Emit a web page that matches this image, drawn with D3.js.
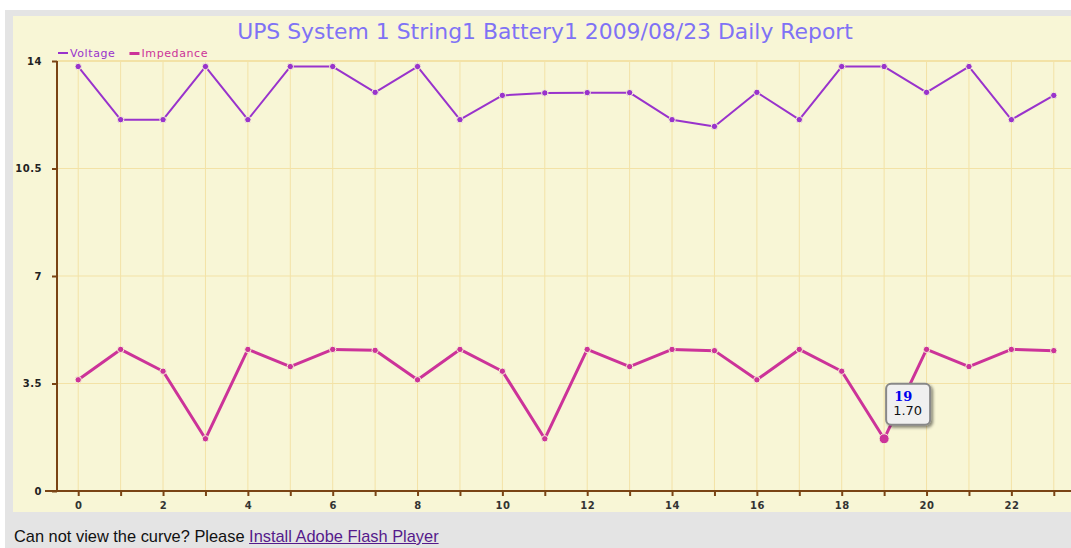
<!DOCTYPE html>
<html>
<head>
<meta charset="utf-8">
<script src="https://cdn.jsdelivr.net/npm/d3@7/dist/d3.min.js"></script>
<style>
  html, body { margin: 0; padding: 0; background: #ffffff; overflow: hidden; }
  #wrap { position: absolute; left: 5px; top: 10px; width: 1066px; height: 538px; background: #e4e4e4; }
  #foot { position: absolute; left: 14px; top: 527px; font-family: "Liberation Sans", Arial, sans-serif; font-size: 16.4px; color: #111; }
  #foot a { color: #551a8b; text-decoration: underline; }
  svg { position: absolute; left: 0; top: 0; }
</style>
</head>
<body>
<div id="wrap"></div>
<svg id="chart" width="1071" height="548"></svg>
<div id="foot">Can not view the curve? Please <a href="#">Install Adobe Flash Player</a></div>
<script>
// Hourly readings for the day
const hours = d3.range(0, 24);
const voltage = [13.82, 12.09, 12.09, 13.82, 12.09, 13.82, 13.82, 12.98, 13.82, 12.09, 12.88, 12.96,
                 12.97, 12.97, 12.09, 11.87, 12.98, 12.09, 13.82, 13.82, 12.98, 13.82, 12.09, 12.88];
const impedance = [3.62, 4.61, 3.90, 1.70, 4.61, 4.05, 4.61, 4.58, 3.62, 4.61, 3.90, 1.70,
                   4.61, 4.05, 4.61, 4.57, 3.62, 4.61, 3.90, 1.70, 4.61, 4.05, 4.61, 4.57];
const yTicks = [0, 3.5, 7, 10.5, 14];
const title = "UPS System 1 String1 Battery1 2009/08/23 Daily Report";
const series = [
  { name: "Voltage", values: voltage, color: "#9933cc", width: 2 },
  { name: "Impedance", values: impedance, color: "#cc3399", width: 3 }
];
const highlight = { series: 1, index: 19 };

const svg = d3.select("#chart");
const font = "DejaVu Sans, Verdana, sans-serif";

// chart panel
svg.append("rect").attr("x", 13).attr("y", 16).attr("width", 1070).attr("height", 496)
  .attr("fill", "#f8f6d6");

const x = d3.scaleLinear().domain([-0.5, 23.5]).range([57, 1075]);
const y = d3.scaleLinear().domain([0, 14]).range([491, 61]);

// grid
const grid = svg.append("g");
grid.selectAll("line.v").data(hours).join("line")
  .attr("x1", d => x(d)).attr("x2", d => x(d))
  .attr("y1", y(14)).attr("y2", y(0))
  .attr("stroke", "#f3e2a6").attr("stroke-width", 1);
grid.selectAll("line.h").data(yTicks.filter(d => d > 0)).join("line")
  .attr("x1", x(-0.5)).attr("x2", 1071)
  .attr("y1", d => y(d)).attr("y2", d => y(d))
  .attr("stroke", "#f3e2a6").attr("stroke-width", d => d === 14 ? 2 : 1);

// axes
const axisColor = "#7a4414";
const yAxis = svg.append("g").attr("transform", `translate(${x(-0.5)},0)`)
  .call(d3.axisLeft(y).tickValues(yTicks).tickSize(5).tickPadding(10)
    .tickFormat(d => String(d)));
yAxis.select(".domain").attr("stroke", axisColor).attr("stroke-width", 2).attr("d", `M0,${y(14)}V${y(0)}`);
yAxis.selectAll(".tick line").attr("stroke", axisColor).attr("stroke-width", 2);
yAxis.selectAll(".tick text").attr("fill", "#222").attr("font-family", font)
  .attr("font-size", 10).attr("font-weight", "bold").attr("letter-spacing", 0.5);

const xAxis = svg.append("g").attr("transform", `translate(0,${y(0)})`)
  .call(d3.axisBottom(x).tickValues(hours).tickSize(5).tickPadding(6)
    .tickFormat(d => d % 2 === 0 ? String(d) : ""));
xAxis.select(".domain").attr("stroke", axisColor).attr("stroke-width", 2).attr("d", `M${x(-0.5) - 12},0H1071`);
xAxis.selectAll(".tick line").attr("stroke", axisColor).attr("stroke-width", 2);
xAxis.selectAll(".tick text").attr("fill", "#333").attr("font-family", font)
  .attr("font-size", 10).attr("font-weight", "bold").attr("letter-spacing", 0.5);

// series lines and dots
const line = d3.line().x((d, i) => x(hours[i])).y(d => y(d));
series.forEach((s, si) => {
  const g = svg.append("g");
  g.append("path").datum(s.values).attr("d", line)
    .attr("fill", "none").attr("stroke", s.color).attr("stroke-width", s.width)
    .attr("stroke-linejoin", "round");
  g.selectAll("circle").data(s.values).join("circle")
    .attr("cx", (d, i) => x(hours[i])).attr("cy", d => y(d))
    .attr("r", (d, i) => (si === highlight.series && i === highlight.index) ? 5 : 3.2)
    .attr("fill", s.color).attr("stroke", "#f8f6d6").attr("stroke-width", 1);
});

// legend
const legend = svg.append("g").attr("font-family", font).attr("font-size", 11).attr("letter-spacing", 0.6);
let lx = 58;
series.forEach(s => {
  legend.append("rect").attr("x", lx).attr("y", 52).attr("width", 10).attr("height", s.width)
    .attr("fill", s.color);
  const t = legend.append("text").attr("x", lx + 12).attr("y", 57).attr("fill", s.color).text(s.name);
  lx += 12 + t.node().getComputedTextLength() + 14;
});

// title
svg.append("text").attr("x", 545).attr("y", 39).attr("text-anchor", "middle")
  .attr("font-family", font).attr("font-size", 21.9)
  .attr("fill", "#7f72f5").text(title);

// tooltip for highlighted point
const hv = series[highlight.series].values[highlight.index];
const tx = x(hours[highlight.index]) + 2, ty = y(hv) - 55;
const defs = svg.append("defs");
const f = defs.append("filter").attr("id", "shadow").attr("x", "-30%").attr("y", "-30%").attr("width", "160%").attr("height", "160%");
f.append("feDropShadow").attr("dx", 2).attr("dy", 2).attr("stdDeviation", 1.5).attr("flood-color", "#000").attr("flood-opacity", 0.45);
const tip = svg.append("g").attr("transform", `translate(${tx},${ty})`);
tip.append("rect").attr("width", 44).attr("height", 41).attr("rx", 5)
  .attr("fill", "#f0f0f0").attr("stroke", "#888").attr("stroke-width", 2).attr("filter", "url(#shadow)");
tip.append("text").attr("x", 8).attr("y", 17).attr("fill", "#0000ee").attr("font-weight", "bold")
  .attr("font-family", "DejaVu Serif, Georgia, serif").attr("font-size", 13).text(String(hours[highlight.index]));
tip.append("text").attr("x", 7).attr("y", 31).attr("fill", "#111")
  .attr("font-family", font).attr("font-size", 13).text(hv.toFixed(2));
</script>
</body>
</html>
